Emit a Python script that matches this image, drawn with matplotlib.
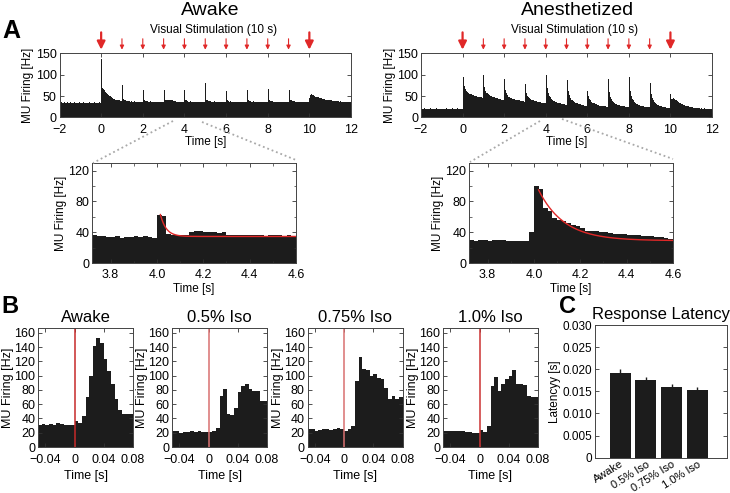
import matplotlib
matplotlib.use("Agg")
import matplotlib.pyplot as plt
import numpy as np
from matplotlib.lines import Line2D

plt.rcParams["font.family"] = ["Liberation Sans", "DejaVu Sans"]

# ---- data ----
stim_times = [0, 1, 2, 3, 4, 5, 6, 7, 8, 9, 10]
big_stims = [0, 10]

# full recordings, 0.05 s bins, one row per second from -2 to 12 s
awake_rows = [
    [35, 36, 35, 34, 36, 35, 35, 36, 34, 35, 36, 35, 34, 35, 36, 35, 35, 34, 35, 36],
    [35, 34, 35, 36, 35, 35, 34, 35, 36, 35, 34, 35, 35, 36, 35, 34, 35, 35, 36, 35],
    [137, 68, 67, 64, 60, 58, 56, 53, 50, 48, 46, 44, 43, 42, 41, 41, 40, 40, 39, 38],
    [76, 43, 41, 40, 39, 39, 38, 38, 37, 38, 37, 37, 38, 37, 36, 37, 37, 36, 37, 36],
    [65, 41, 39, 38, 38, 37, 37, 38, 37, 36, 37, 37, 36, 37, 37, 36, 37, 36, 37, 36],
    [64, 42, 41, 40, 41, 42, 42, 41, 40, 39, 38, 38, 37, 37, 36, 37, 36, 37, 36, 36],
    [64, 40, 38, 37, 37, 38, 37, 36, 37, 36, 37, 36, 37, 36, 37, 37, 36, 36, 37, 36],
    [80, 42, 40, 39, 38, 38, 37, 37, 38, 37, 36, 37, 36, 37, 36, 37, 36, 37, 36, 36],
    [62, 40, 38, 37, 38, 37, 36, 37, 37, 36, 37, 36, 36, 37, 36, 37, 36, 36, 37, 36],
    [65, 41, 39, 38, 37, 37, 38, 37, 36, 37, 36, 37, 36, 37, 37, 36, 37, 36, 36, 37],
    [66, 41, 39, 38, 38, 37, 37, 36, 37, 36, 37, 37, 36, 37, 36, 36, 37, 36, 37, 36],
    [65, 42, 40, 39, 38, 38, 37, 37, 36, 37, 36, 37, 37, 36, 37, 36, 36, 37, 36, 36],
    [45, 52, 54, 53, 51, 48, 47, 48, 47, 46, 45, 45, 44, 43, 43, 42, 42, 41, 41, 40],
    [40, 40, 39, 39, 39, 38, 38, 38, 37, 38, 37, 37, 37, 36, 37, 36, 37, 36, 36, 36],
]
anes_rows = [
    [21, 20, 21, 22, 21, 20, 21, 21, 20, 22, 21, 21, 20, 21, 22, 21, 20, 21, 21, 20],
    [21, 21, 20, 21, 22, 21, 20, 21, 21, 21, 22, 21, 20, 21, 21, 22, 21, 20, 21, 20],
    [95, 74, 66, 62, 60, 58, 56, 55, 54, 53, 52, 51, 50, 50, 49, 48, 48, 47, 47, 46],
    [99, 72, 63, 58, 55, 53, 51, 50, 49, 48, 47, 46, 45, 45, 44, 43, 43, 42, 42, 41],
    [91, 65, 57, 52, 49, 47, 46, 45, 44, 43, 42, 41, 41, 40, 40, 39, 39, 38, 38, 37],
    [79, 58, 51, 47, 45, 43, 42, 41, 40, 39, 38, 38, 37, 36, 36, 35, 35, 34, 34, 33],
    [99, 68, 57, 51, 47, 44, 41, 39, 38, 37, 36, 35, 34, 34, 33, 32, 32, 31, 31, 30],
    [89, 62, 52, 46, 42, 40, 38, 36, 35, 34, 33, 32, 31, 31, 30, 29, 29, 28, 28, 27],
    [62, 50, 44, 40, 37, 35, 33, 32, 31, 30, 29, 28, 28, 27, 27, 26, 26, 26, 25, 25],
    [91, 60, 49, 43, 39, 36, 34, 32, 31, 30, 29, 28, 27, 27, 26, 26, 25, 25, 25, 25],
    [95, 62, 50, 44, 40, 37, 34, 32, 31, 30, 29, 28, 27, 26, 26, 25, 25, 24, 24, 24],
    [80, 55, 45, 40, 36, 33, 31, 30, 29, 28, 27, 26, 25, 25, 24, 24, 23, 23, 22, 22],
    [55, 44, 45, 43, 41, 40, 38, 36, 35, 33, 32, 31, 30, 29, 28, 27, 26, 26, 25, 25],
    [24, 24, 23, 23, 22, 23, 22, 22, 21, 22, 21, 21, 22, 21, 21, 20, 21, 21, 20, 21],
]

# zoom around the 4 s stimulus, 0.02 s bins from 3.72 to 4.60 s
awake_zoom = [36, 35, 35, 34, 34, 35, 33, 34, 34, 35, 34, 35, 34, 33,
              63, 61, 38, 37, 36, 37, 36, 40, 41, 41, 40, 40, 40, 39, 40, 37,
              36, 36, 37, 36, 36, 37, 36, 35, 36, 37, 36, 35, 36, 35]
anes_zoom = [30, 29, 30, 30, 29, 30, 30, 30, 28, 28, 28, 29, 28, 40,
             100, 96, 72, 67, 58, 56, 54, 52, 50, 48, 46, 42, 41, 41, 40, 40,
             39, 38, 38, 38, 37, 37, 36, 35, 35, 35, 34, 34, 32, 31]
# exponential fits: onset, peak, baseline, tau
awake_fit = (4.015, 63, 34.5, 0.025)
anes_fit = (4.02, 95, 29, 0.11)

# PSTHs, 5 ms bins from -0.05 to 0.08 s
psth_titles = ["Awake", "0.5% Iso", "0.75% Iso", "1.0% Iso"]
psth_awake = [31, 32, 31, 32, 31, 34, 32, 31, 31, 31, 37, 34, 43, 70, 100, 142, 153, 146, 124, 107, 88, 68, 52, 47, 47, 47]
psth_iso05 = [22, 23, 19, 21, 21, 22, 21, 22, 21, 21, 21, 22, 26, 71, 81, 47, 45, 55, 77, 86, 88, 81, 78, 78, 65, 65]
psth_iso075 = [25, 25, 23, 24, 25, 25, 24, 25, 26, 25, 22, 25, 30, 93, 126, 110, 108, 100, 103, 97, 95, 83, 68, 72, 68, 70]
psth_iso10 = [22, 22, 22, 22, 22, 22, 21, 21, 20, 19, 24, 21, 30, 86, 98, 78, 88, 95, 100, 108, 88, 89, 87, 72, 70, 70]

lat_labels = ["Awake", "0.5% Iso", "0.75% Iso", "1.0% Iso"]
lat_mean = [0.0191, 0.0176, 0.0159, 0.0154]
lat_err = [0.0010, 0.0007, 0.0007, 0.0005]

BAR = "#1c1c1c"
RED = "#e02828"
W, H = 730, 493


def px_axes(fig, left, top, right, bottom):
    return fig.add_axes([left / W, 1 - bottom / H, (right - left) / W, (bottom - top) / H])


def style(ax, size=8.5, xpad=3):
    ax.tick_params(direction="in", top=True, right=True, length=3, width=0.6,
                   labelsize=size, pad=2, color="#333")
    ax.tick_params(axis="x", pad=xpad)
    ax.tick_params(which="minor", direction="in", top=True, right=True, length=1.8, width=0.5, color="#333")
    for s in ax.spines.values():
        s.set_linewidth(0.7)
        s.set_color("#444")


fig = plt.figure(figsize=(W / 100, H / 100), dpi=100)

# ---- A: full recordings ----
run_edges = np.linspace(-2, 12, 14 * 20 + 1)
tops = [(59.5, 351, awake_rows, "Awake", 210), (421, 712, anes_rows, "Anesthetized", 578)]
for left, right, rows, title, cx in tops:
    ax = px_axes(fig, left, 53.5, right, 117.5)
    ax.stairs(np.concatenate(rows), run_edges, fill=True, color=BAR, lw=0)
    ax.set_xlim(-2, 12)
    ax.set_ylim(0, 150)
    ax.set_xticks(range(-2, 13, 2))
    ax.set_yticks([0, 50, 100, 150])
    style(ax, 9, 4.5)
    ax.set_xlabel("Time [s]", fontsize=8.5, labelpad=0.5)
    ax.set_ylabel("MU Firing [Hz]", fontsize=8.5, labelpad=1)
    tr = ax.get_xaxis_transform()
    for t in stim_times:
        big = t in big_stims
        ax.annotate("", xy=(t, 1.06), xytext=(t, 1.33 if big else 1.23), xycoords=tr, textcoords=tr,
                    arrowprops=dict(arrowstyle="-|>", color=RED, lw=1.6 if big else 0.8,
                                    mutation_scale=12 if big else 6, shrinkA=0, shrinkB=0))
    ax.text(5.4, 1.27, "Visual Stimulation (10 s)", transform=tr, ha="center", va="bottom", fontsize=8.5)
    fig.text(cx / W, 1 - 15 / H, title, ha="center", va="baseline", fontsize=14)

# ---- A: zoomed insets ----
zoom_edges = np.linspace(3.72, 4.60, 45)
insets = [(92, 296, awake_zoom, awake_fit), (469, 673, anes_zoom, anes_fit)]
for left, right, vals, fit in insets:
    ax = px_axes(fig, left, 163, right, 263)
    ax.stairs(vals, zoom_edges, fill=True, color=BAR, lw=0)
    t0, peak, base, tau = fit
    tt = np.linspace(t0, 4.6, 200)
    ax.plot(tt, base + (peak - base) * np.exp(-(tt - t0) / tau), color=RED, lw=1)
    ax.set_xlim(3.72, 4.6)
    ax.set_ylim(0, 130)
    ax.set_xticks([3.8, 4.0, 4.2, 4.4, 4.6])
    ax.set_xticklabels(["3.8", "4.0", "4.2", "4.4", "4.6"])
    ax.set_yticks([0, 40, 80, 120])
    ax.set_xticks(np.arange(3.8, 4.61, 0.1), minor=True)
    ax.set_yticks(np.arange(0, 130, 20), minor=True)
    style(ax, 9, 4.5)
    ax.set_xlabel("Time [s]", fontsize=8.5, labelpad=1.5)
    ax.set_ylabel("MU Firing [Hz]", fontsize=8.5, labelpad=1)

# dotted connectors from the full traces to the insets
connectors = [((173, 121), (93, 163)), ((202, 122), (296, 160)),
              ((540, 121), (470, 162)), ((562, 119), (673, 159))]
for (x0, y0), (x1, y1) in connectors:
    fig.add_artist(Line2D([x0 / W, x1 / W], [1 - y0 / H, 1 - y1 / H], transform=fig.transFigure,
                          color="#a8a8a8", lw=1.3, linestyle=(0, (1, 1.6))))

# ---- B: PSTHs ----
psth_edges = np.linspace(-0.05, 0.08, 27)
psths = [psth_awake, psth_iso05, psth_iso075, psth_iso10]
line_cols = ["#c62a2a", "#d87070", "#d87070", "#cc3333"]
for i, left in enumerate([38, 172, 307.5, 443]):
    ax = px_axes(fig, left, 328, left + 95, 447)
    ax.stairs(psths[i], psth_edges, fill=True, color=BAR, lw=0)
    ax.axvline(0, color=line_cols[i], lw=1.1)
    ax.set_xlim(-0.05, 0.08)
    ax.set_ylim(0, 167)
    ax.set_xticks([-0.04, 0, 0.04, 0.08])
    ax.set_xticklabels(["\u22120.04", "0", "0.04", "0.08"])
    ax.set_yticks(range(0, 161, 20))
    style(ax, 9, 5)
    ax.set_title(psth_titles[i], fontsize=12, pad=4)
    ax.set_xlabel("Time [s]", fontsize=9, labelpad=3)
    ax.set_ylabel("MU Firing [Hz]", fontsize=9, labelpad=0)

# ---- C: latency ----
ax = px_axes(fig, 595, 325, 727, 457.7)
xpos = np.arange(1, len(lat_mean) + 1)
ax.bar(xpos, lat_mean, width=0.82, color=BAR)
ax.errorbar(xpos, lat_mean, yerr=[np.zeros(len(lat_err)), lat_err], fmt="none", ecolor=BAR, elinewidth=1, capsize=0)
ax.set_xlim(0.02, 5.15)
ax.set_ylim(0, 0.030)
ax.set_yticks(np.arange(0, 0.0301, 0.005))
ax.set_yticklabels(["0", "0.005", "0.010", "0.015", "0.020", "0.025", "0.030"])
ax.set_xticks(xpos)
style(ax, 8.5, 1)
ax.tick_params(axis="x", length=0, labelsize=8)
ax.set_xticklabels(lat_labels, rotation=32, ha="right", va="top", rotation_mode="anchor")
ax.set_ylabel("Latencyy [s]", fontsize=8.5, labelpad=1)
ax.set_title("Response Latency", fontsize=12, pad=4)

# panel letters
fig.text(2 / W, 1 - 38 / H, "A", fontsize=18, fontweight="bold", va="baseline")
fig.text(1 / W, 1 - 313 / H, "B", fontsize=17, fontweight="bold", va="baseline")
fig.text(559 / W, 1 - 313 / H, "C", fontsize=17, fontweight="bold", va="baseline")

fig.savefig("out.png", dpi=100)
